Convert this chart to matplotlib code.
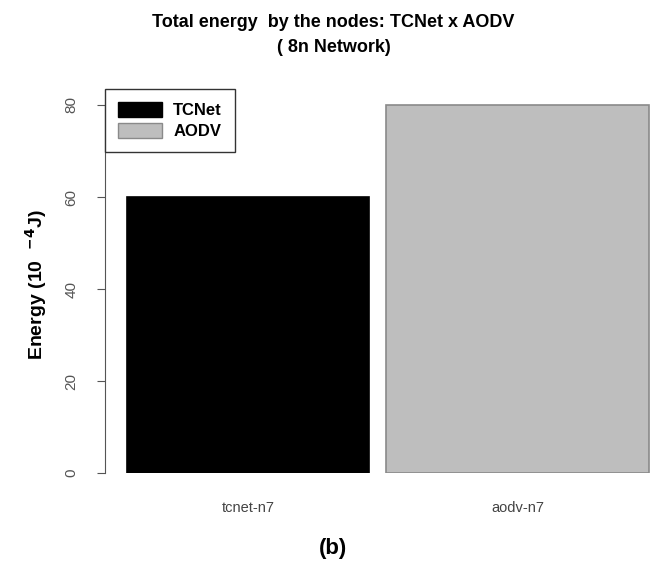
import matplotlib.pyplot as plt
from matplotlib.patches import Patch

# data
categories = ['tcnet-n7', 'aodv-n7']
legend_labels = ['TCNet', 'AODV']
energy = [60, 80]
y_ticks = [0, 20, 40, 60, 80]

plt.rcParams['font.family'] = ['Liberation Sans', 'DejaVu Sans']

fig = plt.figure(figsize=(6.67, 5.66), dpi=100)
ax = fig.add_axes([105 / 667, 0.1643, 555 / 667, 0.6827])

bar_colors = ['black', '#bebebe']
edge_colors = ['black', '#8a8a8a']
x = [0, 1]
ax.bar(x, energy, width=[0.90, 0.98], color=bar_colors, edgecolor=edge_colors, linewidth=1.2)

ax.set_xlim(-0.533, 1.53)
ax.set_ylim(0, 84)

# R-like axis styling
for s in ['top', 'right', 'bottom']:
    ax.spines[s].set_visible(False)
ax.spines['left'].set_bounds(0, 80)
ax.spines['left'].set_color('#555555')
ax.set_yticks(y_ticks)
ax.set_yticklabels([str(t) for t in y_ticks], rotation=90, va='center',
                   fontsize=11, color='#555555')
ax.tick_params(axis='y', length=6, color='#555555', pad=13)
ax.set_xticks(x)
ax.set_xticklabels(categories, fontsize=10.5, color='#444444')
ax.tick_params(axis='x', length=0, pad=20)

ax.set_ylabel('Energy (10  $^{\\mathbf{-4}}$J)', fontsize=14, fontweight='bold')
ax.yaxis.set_label_coords(-0.10, 0.486)

fig.text(0.5, 0.975, 'Total energy  by the nodes: TCNet x AODV\n( 8n Network)',
         ha='center', va='top', fontsize=13, fontweight='bold', linespacing=1.6)
fig.text(0.5, 0.031, '(b)', ha='center', va='center', fontsize=16, fontweight='bold')

handles = [Patch(facecolor=c, edgecolor=e) for c, e in zip(bar_colors, edge_colors)]
leg = ax.legend(handles, legend_labels, loc='upper left', bbox_to_anchor=(0.0, 0.994),
                fancybox=False, framealpha=1, edgecolor='#333333',
                prop={'weight': 'bold', 'size': 12}, handlelength=2.6,
                handleheight=0.95, labelspacing=0.3, borderpad=0.8,
                handletextpad=0.7, borderaxespad=0)
leg.get_frame().set_linewidth(1.0)

fig.savefig('out.png', dpi=100)
